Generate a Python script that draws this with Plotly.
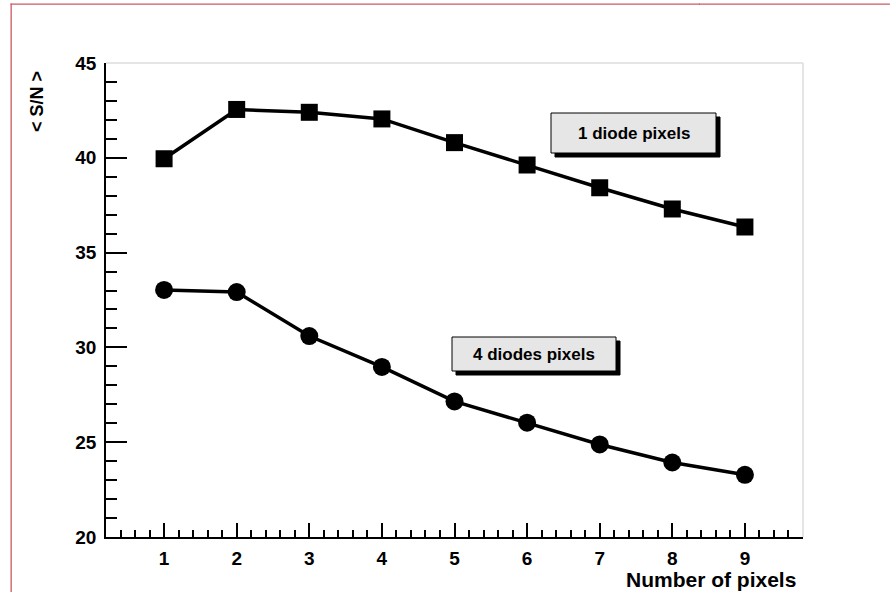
import plotly.graph_objects as go

n_pixels = [1, 2, 3, 4, 5, 6, 7, 8, 9]
sn_1diode = [39.95, 42.55, 42.4, 42.05, 40.8, 39.62, 38.42, 37.3, 36.35]
sn_4diodes = [33.03, 32.92, 30.6, 28.97, 27.15, 26.03, 24.88, 23.93, 23.28]
x_ticks = [1, 2, 3, 4, 5, 6, 7, 8, 9]
y_ticks = [20, 25, 30, 35, 40, 45]

W, H = 890, 592
L, R, T, B = 106, 803, 63, 537
pw, ph = R - L, B - T

def px(x):
    return (x - L) / pw

def py(y):
    return (B - y) / ph

FONT = "Liberation Sans, Arial, Helvetica, sans-serif"
FRAME = "#cc5a62"

fig = go.Figure()
fig.add_trace(go.Scatter(x=n_pixels, y=sn_1diode, mode="lines+markers",
                         line=dict(color="black", width=3.5),
                         marker=dict(symbol="square", size=17, color="black"),
                         showlegend=False))
fig.add_trace(go.Scatter(x=n_pixels, y=sn_4diodes, mode="lines+markers",
                         line=dict(color="black", width=3.5),
                         marker=dict(symbol="circle", size=18, color="black"),
                         showlegend=False))

shapes = []
# red page frame: top edge split in two pieces, left edge
shapes.append(dict(type="rect", xref="paper", yref="paper",
                   x0=px(10.5), x1=px(700), y0=py(3.5), y1=py(4.8),
                   fillcolor=FRAME, line=dict(width=0)))
shapes.append(dict(type="rect", xref="paper", yref="paper",
                   x0=px(699), x1=px(889.9), y0=py(3.5), y1=py(4.8),
                   fillcolor=FRAME, line=dict(width=0)))
shapes.append(dict(type="rect", xref="paper", yref="paper",
                   x0=px(10.5), x1=px(11.8), y0=py(3.5), y1=py(591.9),
                   fillcolor=FRAME, line=dict(width=0)))
# light gray top & right frame of the plot
shapes.append(dict(type="line", xref="paper", yref="paper",
                   x0=0, x1=1, y0=1, y1=1, line=dict(color="#dddddd", width=1.5)))
shapes.append(dict(type="line", xref="paper", yref="paper",
                   x0=1, x1=1, y0=0, y1=1, line=dict(color="#dddddd", width=1.5)))

def label_box(x0, y0, x1, y1, text):
    shapes.append(dict(type="rect", xref="paper", yref="paper",
                       x0=px(x0 + 4), x1=px(x1 + 4), y0=py(y0 + 4), y1=py(y1 + 4),
                       fillcolor="black", line=dict(color="black", width=1)))
    shapes.append(dict(type="rect", xref="paper", yref="paper",
                       x0=px(x0), x1=px(x1), y0=py(y0), y1=py(y1),
                       fillcolor="#e6e6e6", line=dict(color="black", width=1)))
    fig.add_annotation(xref="paper", yref="paper", x=px((x0 + x1) / 2), y=py((y0 + y1) / 2),
                       text="<b>" + text + "</b>", showarrow=False,
                       font=dict(family=FONT, size=17, color="black"),
                       xanchor="center", yanchor="middle")

label_box(551, 113, 716, 153, "1 diode pixels")
label_box(452, 337, 616, 371, "4 diodes pixels")

fig.add_annotation(xref="paper", yref="paper", x=px(798), y=py(579),
                   text="<b>Number of pixels</b>", showarrow=False,
                   font=dict(family=FONT, size=21, color="black"),
                   xanchor="right", yanchor="middle")
fig.add_annotation(xref="paper", yref="paper", x=px(37), y=py(102),
                   text="<b>&lt; S/N &gt;</b>", showarrow=False, textangle=-90,
                   font=dict(family=FONT, size=18, color="black"),
                   xanchor="center", yanchor="middle")

fig.update_layout(
    width=W, height=H,
    margin=dict(l=L, r=W - R, t=T, b=H - B),
    paper_bgcolor="white", plot_bgcolor="white",
    shapes=shapes,
    xaxis=dict(range=[0.2, 9.8], tickvals=x_ticks, ticktext=[str(v) for v in x_ticks],
               ticks="inside", ticklen=14, tickwidth=1.5, tickcolor="black",
               showline=True, linecolor="black", linewidth=1.5, showgrid=False,
               zeroline=False, ticklabelstandoff=3,
               tickfont=dict(family=FONT, size=19, color="black", weight="bold"),
               minor=dict(tick0=0, dtick=0.2, ticks="inside", ticklen=7,
                          tickwidth=1.5, tickcolor="black", showgrid=False)),
    yaxis=dict(range=[20, 45], tickvals=y_ticks,
               ticks="inside", ticklen=21, tickwidth=1.5, tickcolor="black",
               showline=True, linecolor="black", linewidth=1.5, showgrid=False,
               zeroline=False, ticklabelstandoff=4,
               tickfont=dict(family=FONT, size=19, color="black", weight="bold"),
               minor=dict(tick0=0, dtick=1, ticks="inside", ticklen=11,
                          tickwidth=1.5, tickcolor="black", showgrid=False)),
)

fig.write_html("out.html")
